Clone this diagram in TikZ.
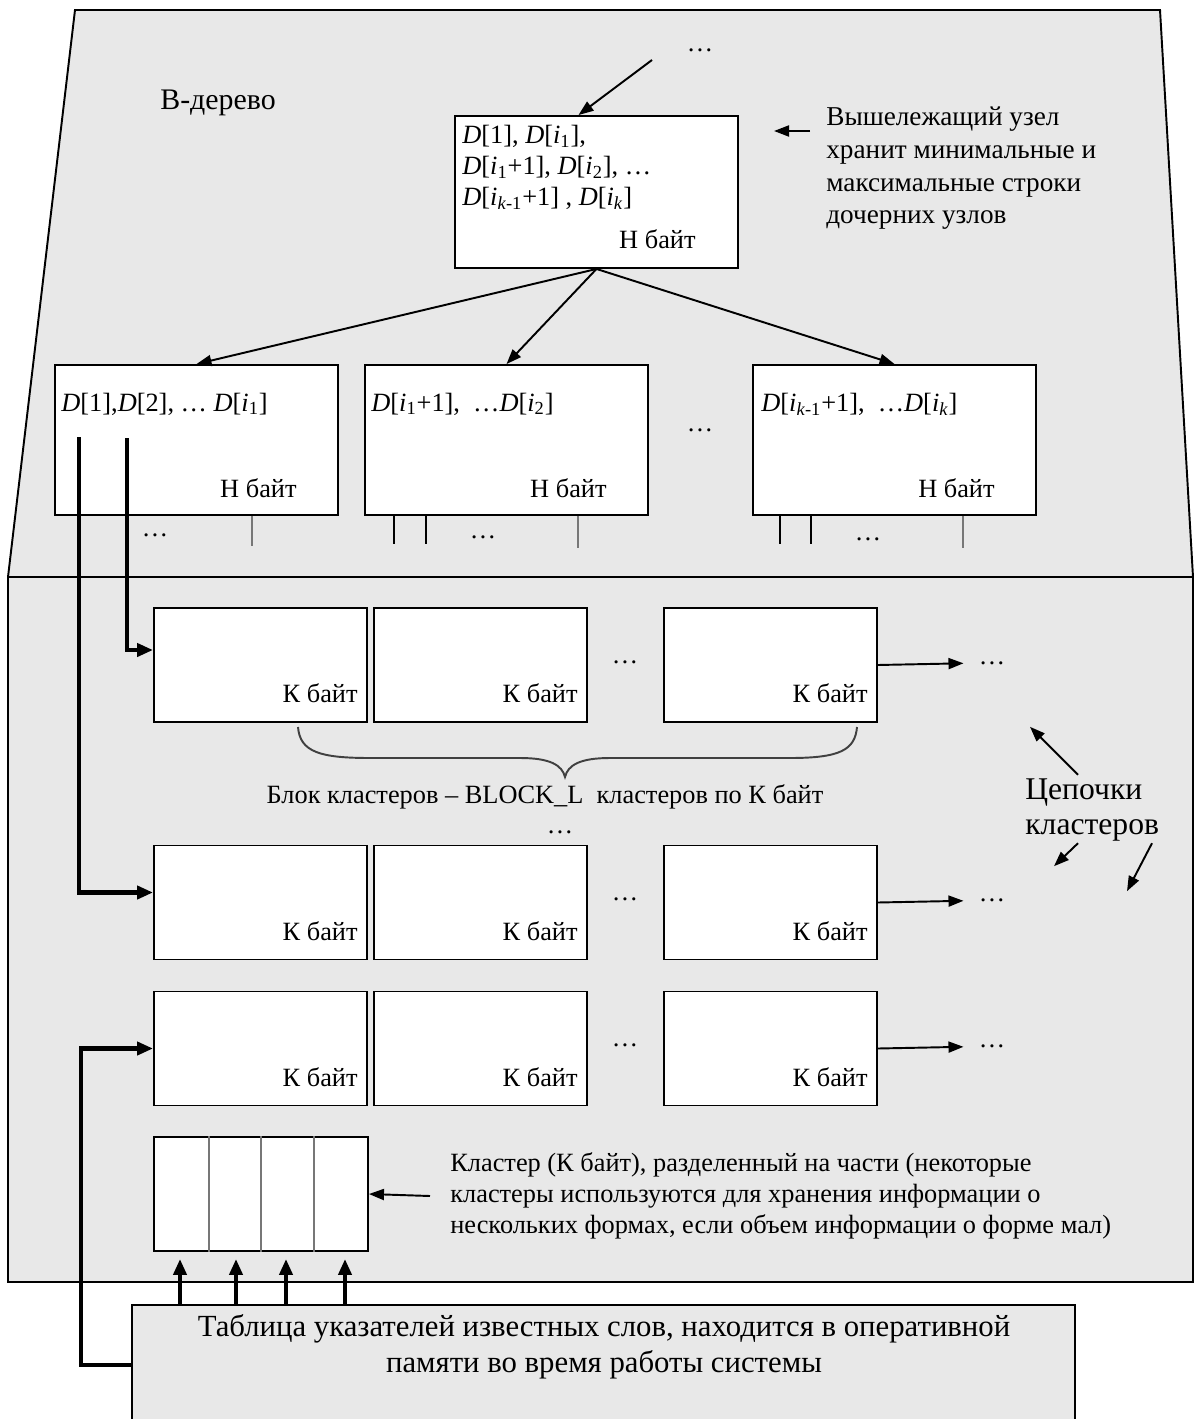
\documentclass[tikz,border=0pt]{standalone}
\usepackage{fontspec}
\setmainfont{Liberation Serif}
\usetikzlibrary{arrows.meta,positioning,calc}
\definecolor{bgGray}{HTML}{E8E8E8}
\definecolor{stubGray}{HTML}{777777}
\newcommand{\Dv}{\textit{D}}
\newcommand{\iv}[1]{\textit{i}\textsubscript{#1}}
\newcommand{\fsm}{\fontsize{15}{17.6}\selectfont}

\begin{document}
\begin{tikzpicture}[x=0.02cm,y=-0.02cm,
  box/.style={draw,fill=white,line width=1.1pt,inner sep=0pt},
  hbox/.style={box,minimum width=5.66cm,minimum height=3.0cm},
  cbox/.style={box,minimum width=4.26cm,minimum height=2.28cm},
  txt/.style={font=\fsm,inner sep=0pt,align=left},
  dots/.style={font=\fsm,inner sep=0pt},
  arr/.style={-{Triangle[length=0.3cm,width=0.22cm]},line width=1.1pt},
  tarr/.style={-{Triangle[length=0.32cm,width=0.26cm]},line width=2.3pt},
  stub/.style={line width=1.4pt}]
    \useasboundingbox (0,0) rectangle (1195,1419);
    % outer shape: tree part and cluster part
    \fill[bgGray] (75,10) -- (1160,10) -- (1193,577) -- (1193,1282) -- (8,1282) -- (8,577) -- cycle;
    \draw[line width=1.1pt] (75,10) -- (1160,10) -- (1193,577) -- (1193,1282) -- (8,1282) -- (8,577) -- cycle;
    \draw[line width=1.1pt] (8,577) -- (1193,577);
    \node[txt,font=\fontsize{17}{20}\selectfont] (btree) at (218,103) {В-дерево};

    % upper node
    \node[box,minimum width=5.66cm,minimum height=3.04cm] (root) at (596.5,192) {};
    \node[txt,anchor=north west] (roottxt) at ($(root.north west)+(8,10)$) {\Dv[1], \Dv[\iv{1}],\\\Dv[\iv{1}+1], \Dv[\iv{2}], \dots\\\Dv[\iv{\textit{k}-1}+1] , \Dv[\iv{\textit{k}}]};
    \node[txt,anchor=base east] (rooth) at ($(root.south east)+(-43,-20)$) {Н байт};
    \node[dots] (rdots) at (700,50) {\dots};
    \coordinate (rin) at (652,60);
    \draw[arr] (rin) -- ($(root.north)+(-18,0)$);
    \node[txt,anchor=north west,font=\fontsize{15.5}{18.5}\selectfont] (upl) at (826,107) {Вышележащий узел\\хранит минимальные и\\максимальные строки\\дочерних узлов};
    \draw[arr] ($(upl.north west)+(-16,24)$) -- ++(-36,0);

    % child nodes
    \node[hbox] (n1) at (196.5,440) {};
    \node[hbox] (n2) at (506.5,440) {};
    \node[hbox] (n3) at (894.5,440) {};
    \node[txt,anchor=west] (n1t) at ($(n1.north west)+(7,40)$) {\Dv[1],\Dv[2], \dots\ \Dv[\iv{1}]};
    \node[txt,anchor=west] (n2t) at ($(n2.north west)+(7,40)$) {\Dv[\iv{1}+1],\ \ \dots\Dv[\iv{2}]};
    \node[txt,anchor=west] (n3t) at ($(n3.north west)+(9,40)$) {\Dv[\iv{\textit{k}-1}+1],\ \ \dots\Dv[\iv{\textit{k}}]};
    \foreach \n in {n1,n2,n3}
      \node[txt,anchor=base east] (\n h) at ($(\n.south east)+(-42,-18)$) {Н байт};
    \draw[arr] (root.south) -- (n1.north);
    \draw[arr] (root.south) -- (n2.north);
    \draw[arr] (root.south) -- (n3.north);
    \node[dots] (ndots) at (700,430) {\dots};

    % pointers below child nodes
    \draw[stub,stubGray] ($(n1.south west)+(198,0)$) -- ++(0,30);
    \draw[stub] ($(n2.south west)+(30,0)$) -- ++(0,28);
    \draw[stub] ($(n2.south west)+(62,0)$) -- ++(0,28);
    \draw[stub,stubGray] ($(n2.south west)+(214,0)$) -- ++(0,32);
    \draw[stub] ($(n3.south west)+(28,0)$) -- ++(0,28);
    \draw[stub] ($(n3.south west)+(59,0)$) -- ++(0,28);
    \draw[stub,stubGray] ($(n3.south west)+(211,0)$) -- ++(0,32);
    \node[dots] (s1) at (155,535) {\dots};
    \node[dots] (s2) at (483,537) {\dots};
    \node[dots] (s3) at (868,539) {\dots};

    % cluster chains
    \foreach \r/\y in {1/665,2/902.5,3/1048.5} {
      \foreach \c/\x in {a/260.5,b/480.5,c/770.5} {
        \node[cbox] (\c\r) at (\x,\y) {};
        \node[txt,anchor=base east] (k\c\r) at ($(\c\r.south east)+(-10,-20)$) {К байт};
      }
      \node[dots] (m\r) at (625,\y-3) {\dots};
      \node[dots] (e\r) at (992,\y-2) {\dots};
      \draw[arr,shorten >=0.3cm] (c\r.east) -- (e\r.west);
    }
    \draw[line width=1.1pt,black!75] (298,727) .. controls (300,752) and (320,758) .. (370,758) -- (520,758)
      .. controls (550,758) and (562,765) .. (565,777) .. controls (568,765) and (580,758) .. (610,758)
      -- (790,758) .. controls (840,758) and (855,750) .. (857,727);
    \node[txt] (blbl) at (545,797) {Блок кластеров – BLOCK\_L\ \ кластеров по К байт};
    \node[dots] (bdots) at (560,832) {\dots};
    \node[txt,anchor=west,font=\fontsize{18}{19.5}\selectfont] (chain) at (1025,810) {Цепочки\\кластеров};
    \draw[arr] ($(chain.north west)+(53,-4)$) -- ++(-48,-48);
    \draw[arr] ($(chain.south west)+(53,2)$) -- ++(-24,23);
    \draw[arr] ($(chain.south west)+(127,2)$) -- ++(-25,48);

    % links from the child node
    \draw[tarr] ($(n1.west)+(25,-3)$) |- ($(a2.west)+(0,-10)$);
    \draw[tarr] ($(n1.west)+(73,-2)$) |- ($(a1.west)+(0,-15)$);

    % divided cluster
    \node[box,minimum width=4.28cm,minimum height=2.28cm] (part) at (261,1194) {};
    \foreach \dx in {56,108,161}
      \draw[stubGray,line width=1.2pt] ($(part.north west)+(\dx,0)$) -- ($(part.south west)+(\dx,0)$);
    \node[txt,anchor=west] (plbl) at (450,1196) {Кластер (К байт), разделенный на части (некоторые\\кластеры используются для хранения информации о\\нескольких формах, если объем информации о форме мал)};
    \draw[arr] ($(plbl.west)+(-20,0)$) -- (part.east);

    % table of pointers
    \node[box,fill=bgGray,minimum width=18.86cm,minimum height=2.4cm] (tbl) at (603.5,1365) {};
    \node[txt,align=center,font=\fontsize{17.5}{20.5}\selectfont] (tbltxt) at (604,1347) {Таблица указателей известных слов, находится в оперативной\\памяти во время работы системы};
    \foreach \x in {180,236,286,345}
      \draw[tarr,shorten >=0.14cm] (\x,0 |- tbl.north) -- (\x,0 |- part.south);
    \draw[tarr] (tbl.west) -- ++(-50,0) |- (a3.west);
  \end{tikzpicture}
\end{document}
